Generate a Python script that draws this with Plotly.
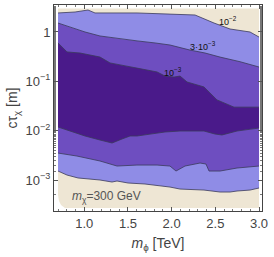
import math
import plotly.graph_objects as go

# ---- data (m_phi in TeV, c*tau in m) ----
x_range = [0.7, 3.0]
y_range = [2.7e-4, 3.0]

# beige region bottom-left rounded corner
corner_x = [0.78, 0.734, 0.711, 0.70]
corner_y = [2.7e-4, 3.1e-4, 3.75e-4, 4.97e-4]

# upper contour 1e-2
up1_x = [0.70, 0.895, 1.043, 1.123, 1.604, 1.981, 2.268, 2.485, 2.668, 2.897, 3.0]
up1_y = [2.43, 2.54, 2.79, 2.43, 2.43, 2.32, 2.21, 1.52, 1.15, 1.0, 0.79]
# lower contour 1e-2
lo1_x = [0.70, 0.803, 0.929, 1.18, 1.318, 1.375, 1.501, 1.695, 1.981, 2.096, 2.37, 2.554, 2.668, 2.748, 2.897, 3.0]
lo1_y = [1.52e-3, 1.26e-3, 1.10e-3, 1.0e-3, 9.1e-4, 9.55e-4, 8.7e-4, 8.3e-4, 7.2e-4, 6.56e-4,
         6.26e-4, 5.71e-4, 5.71e-4, 5.98e-4, 6.26e-4, 6.89e-4]

# upper contour 3e-3
up2_x = [0.70, 0.86, 1.009, 1.18, 1.409, 1.604, 1.81, 1.981, 2.21, 2.382, 2.554, 2.782, 3.0]
up2_y = [1.52, 1.21, 1.0, 0.83, 0.72, 0.66, 0.60, 0.545, 0.43, 0.375, 0.31, 0.25, 0.195]
# lower contour 3e-3
lo2_x = [0.70, 0.917, 1.18, 1.375, 1.604, 1.833, 1.981, 2.05, 2.153, 2.325, 2.393, 2.428, 2.554, 2.748, 3.0]
lo2_y = [3.52e-3, 3.06e-3, 2.43e-3, 1.92e-3, 2.01e-3, 2.01e-3, 1.92e-3, 1.52e-3, 1.92e-3,
         2.21e-3, 2.11e-3, 1.52e-3, 1.52e-3, 1.75e-3, 1.92e-3]

# upper contour 1e-3
up3_x = [0.70, 0.803, 0.952, 1.18, 1.295, 1.467, 1.604, 1.833, 1.924, 2.027, 2.096, 2.176, 2.37, 2.519, 2.714, 3.0]
up3_y = [0.60, 0.394, 0.375, 0.311, 0.236, 0.205, 0.186, 0.155, 0.128, 0.122, 0.128, 0.097,
         0.077, 0.042, 0.030, 0.030]
# lower contour 1e-3
lo3_x = [0.70, 0.837, 1.009, 1.18, 1.318, 1.432, 1.524, 1.604, 1.753, 1.924, 2.096, 2.37, 2.496, 2.576, 2.748, 2.897, 3.0]
lo3_y = [0.01186, 0.00984, 0.0078, 0.00647, 0.00562, 0.00678, 0.0078, 0.0078, 0.00855, 0.0094,
         0.00984, 0.00984, 0.00855, 0.00817, 0.00984, 0.0108, 0.0113]

contour_labels = ["10<sup>−2</sup>", "3·10<sup>−3</sup>", "10<sup>−3</sup>"]
label_x = [2.645, 2.36, 2.016]
label_y = [1.66, 0.525, 0.155]

x_ticks = [1.0, 1.5, 2.0, 2.5, 3.0]
y_ticks = [1, 0.1, 0.01, 0.001]
y_ticktext = ["1", "10<sup>−1</sup>", "10<sup>−2</sup>", "10<sup>−3</sup>"]

# ---- style ----
C_BEIGE = "#EEE6D4"
C_LIGHT = "#8F8CE6"
C_MED = "#6E4EC0"
C_DARK = "#4A1A8A"
C_LINE = "#3A3A5A"
FONT = "Liberation Sans, Arial, sans-serif"

fig = go.Figure()

# beige background region
bx = [x_range[0], x_range[1], x_range[1]] + corner_x + [x_range[0]]
by = [y_range[1], y_range[1], y_range[0]] + corner_y + [y_range[1]]
fig.add_trace(go.Scatter(x=bx, y=by, fill="toself", fillcolor=C_BEIGE, mode="none",
                         hoverinfo="skip", showlegend=False))


def band(ux, uy, lx, ly, color):
    xs = list(ux) + list(lx)[::-1]
    ys = list(uy) + list(ly)[::-1]
    fig.add_trace(go.Scatter(x=xs, y=ys, fill="toself", fillcolor=color, mode="none",
                             hoverinfo="skip", showlegend=False))


band(up1_x, up1_y, lo1_x, lo1_y, C_LIGHT)
band(up2_x, up2_y, lo2_x, lo2_y, C_MED)
band(up3_x, up3_y, lo3_x, lo3_y, C_DARK)

for lx, ly in [(up1_x, up1_y), (lo1_x, lo1_y), (up2_x, up2_y), (lo2_x, lo2_y),
               (up3_x, up3_y), (lo3_x, lo3_y)]:
    fig.add_trace(go.Scatter(x=lx, y=ly, mode="lines", line=dict(color=C_LINE, width=0.8),
                             hoverinfo="skip", showlegend=False))

# annotations on a log axis take log10 positions
for t, lx, ly in zip(contour_labels, label_x, label_y):
    fig.add_annotation(x=lx, y=math.log10(ly), yref="y", xref="x", text=t, showarrow=False,
                       font=dict(family=FONT, size=9, color="#111"))

fig.add_annotation(x=0.84, y=math.log10(4.5e-4), xanchor="left", text="<i>m</i><sub>χ</sub>=300 GeV",
                   showarrow=False, font=dict(family=FONT, size=12, color="#555"))

axis_common = dict(showgrid=False, zeroline=False, showline=True, linecolor="#444", linewidth=1,
                   mirror="ticks", ticks="inside", ticklen=4, tickcolor="#555", automargin=False,
                   tickfont=dict(family=FONT, size=13, color="#444"))

fig.update_xaxes(range=[0.654, 3.034], tickvals=x_ticks, tickformat=".1f",
                 minor=dict(ticks="inside", ticklen=2, dtick=0.1, tickcolor="#777"),
                 title=dict(text="<i>m</i><sub>ϕ</sub> [TeV]", font=dict(family=FONT, size=14, color="#444"),
                            standoff=8),
                 **axis_common)
fig.update_yaxes(type="log", range=[-3.628, 0.547], tickvals=y_ticks, ticktext=y_ticktext,
                 minor=dict(ticks="inside", ticklen=2, tickcolor="#777"),
                 title=dict(text="cτ<sub>χ</sub> [m]", font=dict(family=FONT, size=14, color="#444"),
                            standoff=4),
                 **axis_common)

fig.update_layout(width=274, height=257, margin=dict(l=54, r=12, t=5, b=46),
                  paper_bgcolor="white", plot_bgcolor="white")

fig.write_html("out.html", config={"displayModeBar": False},
               post_script="document.body.style.margin='0';document.body.style.overflow='hidden';")
